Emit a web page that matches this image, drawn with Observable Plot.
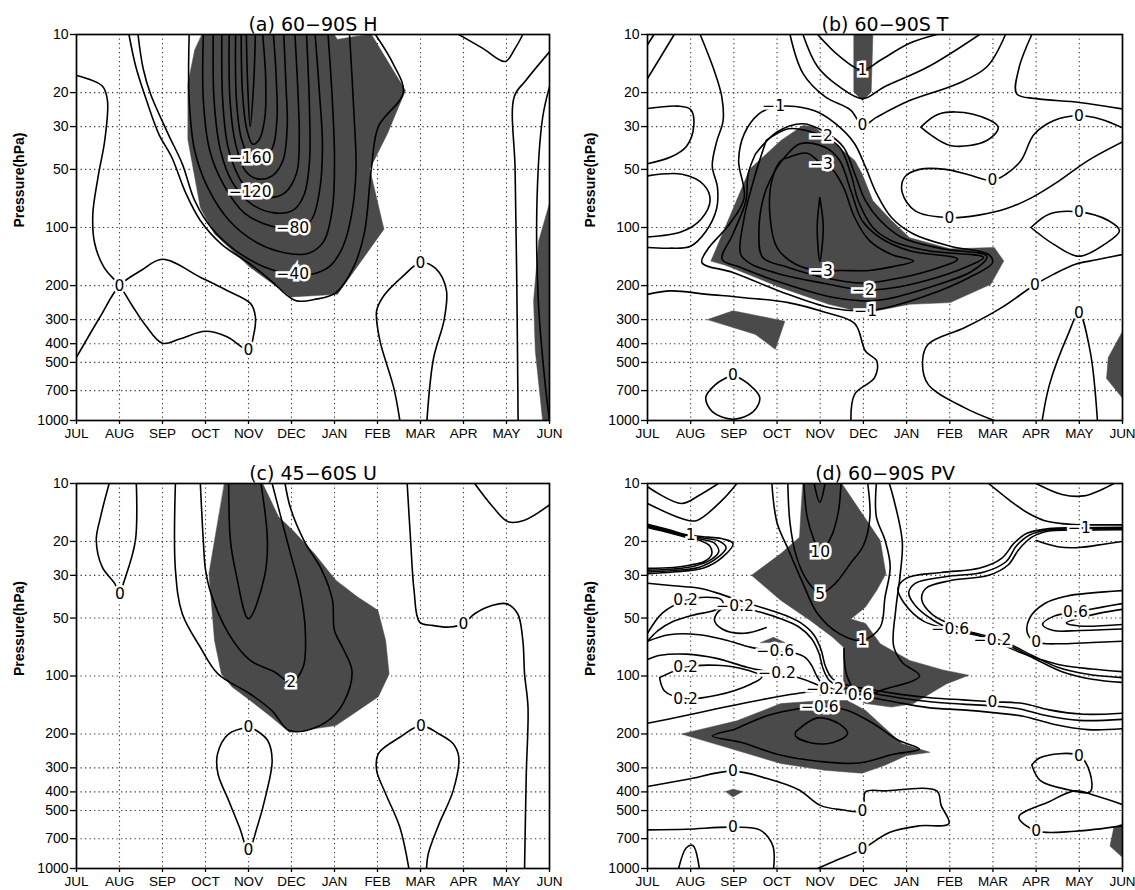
<!DOCTYPE html>
<html>
<head>
<meta charset="utf-8">
<script src="https://cdn.jsdelivr.net/npm/d3@7"></script>
<script src="https://cdn.jsdelivr.net/npm/@observablehq/plot@0.6"></script>
<style>
  html, body { margin: 0; padding: 0; background: #fff; }
  #fig { position: relative; width: 1135px; height: 890px; overflow: hidden; }
  #fig svg { position: absolute; overflow: visible; }
</style>
</head>
<body>
<div id="fig"></div>
<script>
// Month axis (JUL..JUN) and pressure axis ticks
const MONTHS = ["JUL","AUG","SEP","OCT","NOV","DEC","JAN","FEB","MAR","APR","MAY","JUN"];
const P_TICKS = [10, 20, 30, 50, 100, 200, 300, 400, 500, 700, 1000];

// Points are [month index (0 = JUL), pressure hPa]

// ---------- (a) 60-90S H ----------
const hShade = [
  [[2.92,10],[5.99,10],[6.07,10.6],[6.5,10.2],[6.86,10],[7.65,19.5],[7.23,32.7],[6.82,49.8],[7.15,102],[6.07,222],[4.99,229],[4.04,161],[3.21,108],[2.88,79],[2.59,35],[2.59,18],[2.75,12]],
  [[11,75],[10.75,117],[10.63,240],[10.67,437],[10.84,1000],[11,1000]]
];
const hLines = [
  {level: 0, pts: [[0,16.3],[0.6,18.5],[0.72,22],[0.66,35],[0.5,55],[0.38,85],[0.42,120],[0.64,161],[1.0,200],[1.3,255],[1.6,320],[2.0,398],[2.4,378],[3.0,345],[3.5,368],[4.0,430],[4.12,360],[4.16,290],[4.05,248],[3.5,212],[2.9,182],[2.0,146],[1.5,167],[1.0,200],[0.55,290],[0,470]]},
  {level: 0, pts: [[7.52,1000],[7.38,680],[7.05,380],[6.98,270],[7.15,225],[7.6,178],[8.0,152],[8.35,163],[8.6,210],[8.55,300],[8.3,480],[8.15,1000]]},
  {level: 0, pts: [[8.89,10],[9.45,11.8],[9.97,13.8],[10.2,11.8],[10.38,10]]},
  {level: 0, pts: [[11,12.3],[10.45,17.3],[10.18,21],[10.2,50],[10.24,200],[10.27,1000]]},
  {level: 20, pts: [[11,18.7],[10.84,27],[10.71,72],[10.74,240],[10.9,650],[11,1000]]},
  {level: -20, pts: [[1.22,10],[1.38,14.7],[1.63,22],[1.92,33],[2.21,43],[2.55,67],[2.88,92],[3.37,122],[4.04,155],[4.54,190],[4.87,222],[5.12,240],[5.53,236],[6.03,218],[6.44,161],[6.69,108],[6.86,49],[7.02,30],[7.6,20],[7.35,14],[6.95,10]]},
  {level: -40, pts: [[1.43,10],[1.55,15],[1.72,20.3],[2.13,32.7],[2.46,46.8],[2.75,72.6],[3.13,100],[3.71,132],[4.37,160],[5.03,175],[5.5,174],[5.9,158],[6.2,125],[6.4,85],[6.5,50],[6.45,25],[6.35,10]]},
  {level: -60, pts: [[2.62,10],[2.62,22],[2.75,40],[3.05,62],[3.55,92],[4.2,120],[4.9,136],[5.4,136],[5.75,118],[5.95,80],[6.0,45],[5.95,22],[5.85,10]]},
  {level: -80, pts: [[2.95,10],[2.95,22],[3.1,40],[3.42,60],[3.9,84],[4.5,98],[5.03,101],[5.45,92],[5.65,65],[5.72,38],[5.65,20],[5.55,10]]},
  {level: -100, pts: [[3.18,10],[3.2,22],[3.35,40],[3.62,58],[4.05,75],[4.6,84],[5.05,81],[5.3,67],[5.42,45],[5.42,25],[5.35,10]]},
  {level: -120, pts: [[3.38,10],[3.4,22],[3.52,38],[3.78,55],[4.04,65.8],[4.5,70],[4.85,66],[5.12,52],[5.18,35],[5.15,20],[5.08,10]]},
  {level: -140, pts: [[3.55,10],[3.57,22],[3.7,37],[3.93,51],[4.2,56],[4.55,54],[4.8,45],[4.9,30],[4.87,18],[4.82,10]]},
  {level: -160, pts: [[3.7,10],[3.72,22],[3.84,35],[4.04,43.5],[4.3,44],[4.55,39],[4.66,28],[4.64,16],[4.58,10]]},
  {level: -180, pts: [[3.83,10],[3.86,20],[3.96,31],[4.1,37],[4.25,35],[4.38,27],[4.4,17],[4.33,10]]},
  {level: -200, pts: [[3.95,10],[3.98,18],[4.04,30],[4.12,18],[4.16,10]]}
];
const hLabels = [[4.04,43.5,-160],[4.04,65.8,-120],[5.03,101,-80],[5.03,175,-40],[1.0,200,0],[4.0,430,0],[8.0,152,0]];

// ---------- (b) 60-90S T ----------
const tShade = [
  [[1.47,149],[2.37,49.8],[3.09,35.4],[3.6,29.6],[3.85,30],[4.28,36],[4.8,45],[4.97,52.8],[5.22,72.7],[5.65,92],[6.07,113],[7.01,129],[8.03,127],[8.25,149],[7.95,197],[7.01,245],[6.07,250],[5.05,277],[4.2,250],[3.09,205],[1.81,157]],
  [[4.78,10],[5.22,10],[5.18,19.9],[4.98,22],[4.78,19.9]],
  [[1.39,300],[1.98,270],[3.18,306],[2.96,428],[2.5,358]],
  [[11,345],[10.67,472],[10.63,605],[11,765]]
];
const tLines = [
  {level: -1, pts: [[2.92,23.6],[3.43,23.6],[3.94,25.2],[4.45,30.2],[4.8,36.9],[5.05,48.7],[5.31,67],[5.65,88.7],[6.16,108],[7.01,125],[7.9,138],[7.99,152],[7.44,182],[6.5,224],[5.48,262],[5.05,270],[4.28,262],[3.09,215],[1.98,171],[1.26,152],[1.39,130],[1.9,96],[2.24,70],[2.11,45],[2.24,32.7],[2.58,25.8],[2.92,23.6]]},
  {level: -1.5, pts: [[2.5,41.6],[3.0,32],[3.6,29],[4.11,32],[4.54,38.4],[4.8,52.8],[5.05,72.7],[5.39,92],[5.9,113],[6.84,129],[7.86,141],[7.52,168],[6.5,205],[5.48,236],[4.97,240],[4.28,230],[3.09,193],[2.16,161],[1.73,146],[1.98,108],[2.28,72.7],[2.33,52.8],[2.5,41.6]]},
  {level: -2, pts: [[2.75,35.4],[3.26,30.8],[3.7,31.5],[4.03,33.4],[4.45,38.4],[4.71,52.8],[4.88,72.7],[5.22,100],[5.65,117],[6.5,132],[7.78,143],[7.35,161],[6.5,187],[5.65,206],[5.0,211],[4.11,195],[3.09,175],[2.41,155],[2.16,138],[2.24,89],[2.5,52.8],[2.75,35.4]]},
  {level: -2.5, pts: [[3.0,48.8],[3.52,36.9],[4.11,38.4],[4.45,45],[4.71,64.5],[4.97,92],[5.39,113],[6.07,132],[7.18,146],[6.5,168],[5.65,186],[4.97,194],[4.11,182],[3.26,161],[2.67,143],[2.58,108],[2.71,67],[3.0,48.8]]},
  {level: -3, pts: [[3.26,43.4],[3.7,41.2],[4.03,46.8],[4.28,50],[4.54,62],[4.8,89],[5.14,117],[5.65,138],[6.16,149],[5.65,160],[5.14,167],[4.45,167],[4.03,168],[3.43,155],[3.0,127],[2.84,89],[2.88,57],[3.09,45],[3.26,43.4]]},
  {level: -3.5, pts: [[3.99,70],[4.07,100],[3.99,150],[3.93,100],[3.99,70]]},
  {level: 0, pts: [[0,11.3],[0.15,10]]},
  {level: 0, pts: [[0,16.9],[0.62,10]]},
  {level: 0, pts: [[0,24.2],[0.7,23.5],[1.0,24.5],[1.07,30],[0.9,38],[0.55,43],[0,46.7]]},
  {level: 0, pts: [[0,54],[0.8,53],[1.3,60],[1.45,72],[1.25,90],[0.8,105],[0,112]]},
  {level: -0.5, pts: [[1.22,10],[1.55,15.5],[1.72,21],[1.75,28],[1.6,36],[1.5,48],[1.62,62],[1.6,80],[1.35,105],[1.0,125],[0.5,128],[0,127]]},
  {level: 1, pts: [[3.94,10],[4.45,13],[4.98,15.3],[5.39,13.6],[6.07,11.1],[6.7,10]]},
  {level: 0.5, pts: [[3.6,10],[3.94,14.7],[4.45,18.7],[4.98,21.5],[5.48,18.7],[6.5,14.7],[7.69,10]]},
  {level: 0, pts: [[3.3,10],[3.6,15.9],[4.11,21],[4.71,24.7],[4.98,29.6],[5.31,26.8],[6.07,22],[7.18,18],[7.86,14.7],[8.29,10]]},
  {level: 0, pts: [[8.9,10],[8.6,15],[8.55,20.3],[9.0,21.5],[10,22.5],[11,24.3]]},
  {level: 0.5, pts: [[6.33,30.2],[6.75,25.8],[7.52,25.8],[8.12,30.2],[7.86,35.4],[7.01,37.6],[6.33,30.2]]},
  {level: 0, pts: [[11,30.5],[10.5,27.5],[9.99,26.3],[9.4,28],[8.95,33],[8.65,45],[8.3,53],[7.99,57],[7.4,53],[6.9,50],[6.3,50],[5.95,55],[5.9,66],[6.2,82],[6.99,89],[7.7,86],[8.3,80],[8.9,70],[9.5,58],[10.2,45],[11,36]]},
  {level: 0, pts: [[8.88,100],[9.31,85],[9.99,83],[10.67,92],[10.93,104],[10.59,122],[9.99,141],[9.4,122],[8.88,100]]},
  {level: 0, pts: [[11,138],[10.4,147],[9.91,155],[9.4,175],[8.97,198],[8.2,260],[7.35,330],[6.5,403],[6.37,490],[6.5,650],[7.35,860],[8.03,1000]]},
  {level: 0, pts: [[9.14,1000],[9.31,650],[9.74,358],[9.99,277],[10.25,437],[10.42,1000]]},
  {level: -0.5, pts: [[0,222],[0.54,213],[1.39,222],[2.24,231],[3.26,245],[4.11,275],[4.8,315],[5.05,438],[5.31,492],[5.26,600],[4.8,730],[4.71,1000]]},
  {level: 0, pts: [[1.98,578],[1.56,655],[1.35,760],[1.5,900],[1.98,985],[2.45,900],[2.6,760],[2.35,650],[1.98,578]]}
];
const tLabels = [[2.92,23.6,-1],[5.05,270,-1],[4.03,33.4,-2],[5.0,211,-2],[4.03,46.8,-3],[4.03,168,-3],[4.98,15.3,1],[4.98,29.6,0],[7.99,57,0],[6.99,89,0],[9.99,26.3,0],[9.99,83,0],[8.97,198,0],[9.99,277,0],[1.98,578,0]];

// ---------- (c) 45-60S U ----------
const uShade = [
  [[3.44,10],[4.33,10],[4.7,14.9],[5.03,17.5],[5.53,23.1],[6.03,31.8],[6.53,38.8],[7.01,45.6],[7.19,65.4],[7.27,97.5],[7.02,128],[6.44,157],[6.03,181],[4.95,196],[4.54,164],[4.04,134],[3.62,114],[3.37,97.5],[3.21,65.4],[3.08,29.4],[3.21,19.8]]
];
const uLines = [
  {level: 3, pts: [[3.54,10],[3.58,19.8],[3.71,29.4],[4.0,50.4],[4.37,30.6],[4.44,19.8],[4.29,10]]},
  {level: 2, pts: [[2.88,10],[2.95,20],[3.0,28],[3.13,37.4],[3.54,60.4],[4.04,83],[4.6,95],[4.99,108],[5.27,90],[5.32,58],[5.2,36],[4.95,22],[4.72,14],[4.55,10]]},
  {level: 1, pts: [[2.3,10],[2.3,28],[2.46,47.5],[2.88,70.9],[3.29,97.5],[4.04,124],[4.54,151],[4.95,192],[5.53,186],[6.03,157],[6.36,114],[6.4,92],[6.2,72],[6.0,58],[5.95,40],[5.7,28],[5.3,20],[4.98,13.5],[4.85,10]]},
  {level: 0, pts: [[0.76,10],[0.56,14.9],[0.46,19.7],[0.6,27.2],[0.89,33.1],[1.01,37.3],[1.09,33.1],[1.37,19.8],[1.39,10]]},
  {level: 0, pts: [[4.0,184],[3.54,200],[3.28,254],[3.29,322],[3.54,444],[3.79,611],[4.0,806],[4.2,611],[4.41,411],[4.55,275],[4.45,217],[4.2,193],[4.0,184]]},
  {level: 0, pts: [[7.73,1000],[7.52,611],[7.19,409],[6.98,309],[7.02,253],[7.52,208],[8.01,181],[8.43,200],[8.76,225],[8.89,264],[8.76,394],[8.43,588],[8.18,840],[8.14,1000]]},
  {level: 0, pts: [[7.69,10],[7.77,19.8],[7.85,35.9],[7.98,52.5],[8.27,54.6],[8.68,55.7],[9.0,53.4],[9.26,47.5],[9.68,42.9],[10.01,42.2],[10.26,47.5],[10.38,65.4],[10.42,97.5],[10.5,145],[10.46,322],[10.42,1000]]},
  {level: 0, pts: [[9.26,10],[9.68,13.2],[10.04,15.8],[10.42,15.5],[11,12.9]]}
];
const uLabels = [[1.01,37.3,0],[4.0,184,0],[4.0,806,0],[8.01,181,0],[9.0,53.4,0],[4.99,108,2]];

// ---------- (d) 60-90S PV ----------
const pvShade = [
  [[3.6,10],[4.5,10],[5.39,19.8],[5.52,29.4],[5.31,35.9],[5.05,43.8],[4.71,50.5],[5.05,53.4],[5.39,68],[6.07,83],[6.84,93],[7.44,99],[6.92,110],[6.16,139],[5.65,145],[5.05,139],[4.54,123],[4.54,70.8],[4.28,62.7],[3.77,51.5],[3.09,40.5],[2.41,30],[3.09,23.1],[3.52,19],[3.56,13.2]],
  [[0.79,200],[2.07,171],[3.09,139],[4.11,134],[4.63,134],[5.05,151],[5.48,185],[5.9,225],[6.54,249],[6.0,259],[5.48,292],[4.97,320],[4.11,309],[3.09,285],[1.81,234]],
  [[1.81,398],[1.98,387],[2.2,398],[1.98,425]],
  [[2.62,67],[2.92,63],[3.18,67]],
  [[11,585],[10.8,611],[10.71,765],[11,876]]
];
const pvLines = [
  {level: 10, pts: [[3.86,10],[3.99,12.5],[4.11,10]]},
  {level: 10, pts: [[3.62,10],[3.7,15],[3.85,19.5],[4.0,22.8],[4.25,19],[4.42,14],[4.48,10]]},
  {level: 5, pts: [[3.25,10],[3.3,16],[3.45,24],[3.7,32],[4.0,37.3],[4.35,33],[4.7,26],[5.0,21],[5.15,15],[5.1,10]]},
  {level: 1, pts: [[2.88,10],[3.0,16],[3.26,22],[3.6,33],[3.94,47.5],[4.45,60.4],[4.98,65.4],[5.39,55.7],[5.5,39],[5.62,27],[5.5,19.7],[5.3,14.9],[5.3,10]]},
  {level: 0.6, pts: [[4.55,72],[4.62,100],[4.92,126],[5.5,117],[6.3,100],[5.9,85],[5.7,70],[5.75,45],[5.85,30],[5.9,20],[5.7,12],[5.6,10]]},
  {level: 0.2, pts: [[0,10.4],[0.79,12.7],[1.2,11.5],[1.64,10]]},
  {level: 0.6, pts: [[0,12.7],[0.79,15.2],[1.13,15.6],[1.73,12.2],[2.07,10]]},
  // tightly packed band from JUL to AUG near 17 hPa
  {level: 1, pts: [[0,16.3],[0.5,17.4],[0.88,18.4],[1.4,19.0],[1.75,19.4],[1.98,20.5],[1.75,24],[1.3,27.5],[0.6,28.8],[0,29.4]]},
  {level: 0.6, pts: [[0,16.5],[0.5,17.6],[0.88,18.6],[1.35,19.3],[1.65,19.9],[1.82,21.5],[1.62,24.3],[1.2,27.2],[0.6,28.3],[0,28.8]]},
  {level: 0.2, pts: [[0,16.7],[0.5,17.8],[0.88,18.8],[1.3,19.6],[1.55,20.4],[1.65,22.6],[1.48,24.8],[1.1,26.8],[0.6,27.8],[0,28.2]]},
  {level: -0.2, pts: [[0,16.9],[0.5,18.0],[0.88,19.0],[1.25,19.9],[1.45,21.2],[1.48,23.5],[1.3,25.5],[1.0,26.5],[0.6,27.3],[0,27.6]]},
  {level: 0.2, pts: [[0,60],[0.35,47],[0.88,40.5],[1.35,39],[1.7,40],[1.75,43],[1.5,46],[1.1,48],[0.6,52],[0.25,58],[0,66]]},
  {level: 0, pts: [[0,33],[0.6,34],[1.2,35],[1.6,37],[2.2,41],[2.7,44.5],[3.15,48],[3.55,53],[3.85,61],[4.02,73],[4.12,89],[4.28,103],[4.6,111],[5.2,118],[5.9,125],[6.6,130],[7.3,133],[7.99,136],[8.7,139],[9.3,150],[10.1,158],[11,156]]},
  {level: -0.2, pts: [[2.75,56],[2.24,60],[1.73,57],[1.55,51],[1.7,45],[2.03,43.5],[2.6,46.5],[3.1,50.5],[3.5,55.5],[3.8,64],[3.97,76],[4.07,92],[4.22,106],[4.55,115],[5.15,122],[5.85,130],[6.55,136],[7.3,140],[7.99,143],[8.6,148],[9.2,160],[10,170],[11,168]]},
  {level: -0.6, pts: [[0,66],[0.5,61],[1.2,61],[1.8,65],[2.4,71],[2.96,74.5],[3.4,76],[3.65,80],[3.8,88],[3.92,100],[4.05,110],[4.4,119],[5.0,127],[5.7,136],[6.5,146],[7.3,150],[8.0,155],[8.7,162],[9.4,178],[10.2,190],[11,188]]},
  {level: -0.2, pts: [[0,82],[0.3,78],[0.9,77],[1.6,81],[2.3,90],[3.0,97],[3.5,102],[3.85,109],[4.11,117],[3.7,121],[3.2,126],[2.4,136],[1.6,148],[0.8,162],[0,176]]},
  {level: 0.2, pts: [[0.28,102],[0.88,90],[1.6,88],[2.3,93],[2.65,101],[2.4,110],[1.6,126],[0.88,131],[0.4,120],[0.28,102]]},
  {level: -0.6, pts: [[2.0,190],[2.8,160],[3.5,148],[3.99,145],[4.6,150],[5.2,175],[5.8,215],[6.3,240],[5.7,255],[4.9,283],[4.0,278],[3.0,255],[2.2,222],[1.5,205],[2.0,190]]},
  {level: -1, pts: [[3.43,195],[3.94,165],[4.45,178],[4.63,200],[4.28,222],[3.77,222],[3.43,205],[3.43,195]]},
  {level: 0, pts: [[0,375],[0.9,345],[1.98,312],[2.75,340],[3.5,390],[4.0,470],[4.5,495],[4.98,500],[5.05,400],[5.5,395],[6.7,395],[6.8,470],[6.98,585],[6.3,600],[5.6,650],[4.98,793],[4.4,900],[3.94,1000]]},
  {level: 0, pts: [[0,630],[0.9,625],[1.98,610],[2.6,630],[2.9,760],[2.92,1000]]},
  {level: 0, pts: [[0.72,1000],[0.9,780],[1.05,760],[1.2,1000]]},
  {level: 0, pts: [[8.9,290],[9.1,265],[9.99,259],[10.25,320],[10.25,400],[9.75,390],[9.1,350],[8.9,290]]},
  {level: 0, pts: [[11,465],[10.4,420],[9.9,395],[9.3,450],[8.6,540],[9.0,637],[9.9,640],[11,600]]},
  // nested contours opening to JUN, packed into a band near 17 hPa
  {level: -1, pts: [[11,16.9],[10,17.0],[9.3,17.15],[8.8,18.1],[8.5,20.3],[8.2,24.5],[7.7,27.5],[6.8,29],[6.0,31],[5.8,35],[5.95,42],[6.4,52],[7.0,57],[7.7,62],[8.4,70],[9.0,82],[9.6,95],[10.3,104],[11,108]]},
  {level: -0.6, pts: [[11,17.15],[10,17.25],[9.3,17.4],[8.85,18.5],[8.55,21.0],[8.3,25.5],[7.8,28.8],[6.9,30.5],[6.2,33],[6.05,37],[6.2,43],[6.6,51],[7.01,56.8],[7.6,60],[8.3,67],[8.9,78],[9.5,90],[10.2,98],[11,102]]},
  {level: -0.2, pts: [[11,17.4],[10,17.5],[9.3,17.65],[8.9,19.0],[8.6,22.0],[8.35,26.5],[7.9,30],[7.0,32],[6.45,35],[6.35,40],[6.6,48],[7.2,56],[7.99,65.4],[8.6,75],[9.1,82],[9.6,88],[10.3,92],[11,95]]},
  {level: 0, pts: [[11,36],[10.3,37],[9.7,38.5],[9.2,42],[8.85,50],[8.8,60],[9.0,66.6],[9.6,68],[10.3,67],[11,66]]},
  {level: 0.6, pts: [[11,42],[10.5,44],[9.91,46.5],[9.4,49],[9.15,54],[9.4,58],[10.0,58],[11,57]]},
  {level: 1, pts: [[11,45],[10.5,47],[10.0,50],[9.7,53],[10.0,55],[11,54]]},
  {level: 0, pts: [[7.9,10],[8.4,12.3],[8.8,14.2],[9.2,15.6],[9.8,16.3],[10.5,16.4],[11,16.4]]},
  {level: 0.2, pts: [[9.0,10],[9.6,11.4],[10.1,11.6],[10.5,10.8],[10.8,10]]},
  {level: -0.6, pts: [[9.0,19.8],[9.5,21.3],[10.0,21.5],[10.6,20.6],[11,20]]}
];
const pvLabels = [[4.0,22.8,10],[4.0,37.3,5],[4.98,65.4,1],[4.92,126,0.6],[1.0,18.5,1],[0.88,40.5,0.2],[2.03,43.5,-0.2],[2.96,74.5,-0.6],[3.0,97,-0.2],[0.88,90,0.2],[0.88,131,0.2],[4.11,117,-0.2],[3.99,145,-0.6],[7.01,56.8,-0.6],[7.99,65.4,-0.2],[9.0,66.6,0],[9.91,46.5,0.6],[10.0,17.1,-1],[7.99,136,0],[9.99,259,0],[1.98,312,0],[4.98,500,0],[1.98,610,0],[9.0,637,0],[4.98,793,0]];

// ---------- drawing ----------
const SHADE = "#4a4a4a";
const SANS = "'Liberation Sans', Arial, sans-serif";
const GRADS = "'DejaVu Sans', sans-serif";
const fmtLevel = v => (v < 0 ? "\u2212" + Math.abs(v) : String(v));

function panel({title, shade, lines, labels, left, top, width, height, ml, mr, mt, mb}) {
  const lineRows = lines.flatMap((c, i) => c.pts.map(([m, p]) => ({id: i, m, p})));
  const shadeRows = shade.flatMap((poly, i) => poly.map(([m, p]) => ({id: i, m, p})));
  const labelRows = labels.map(([m, p, level]) => ({m, p, text: fmtLevel(level)}));
  const monthIdx = d3.range(MONTHS.length);
  const svg = Plot.plot({
    width, height,
    marginLeft: ml, marginRight: mr, marginTop: mt, marginBottom: mb,
    style: {fontFamily: SANS, fontSize: "14px", background: "transparent", overflow: "visible"},
    x: {domain: [0, 11], axis: null},
    y: {type: "log", domain: [10, 1000], reverse: true, axis: null},
    marks: [
      Plot.gridX(d3.range(1, 11), {stroke: "#222", strokeOpacity: 0.9, strokeDasharray: "1.3,3.2", strokeWidth: 1.1}),
      Plot.gridY(P_TICKS.slice(1, -1), {stroke: "#222", strokeOpacity: 0.9, strokeDasharray: "1.3,3.2", strokeWidth: 1.1}),
      Plot.line(shadeRows, {x: "m", y: "p", z: "id", fill: SHADE, stroke: SHADE, strokeWidth: 0.5, curve: "linear-closed", clip: true}),
      Plot.line(lineRows, {x: "m", y: "p", z: "id", stroke: "#000", strokeWidth: 1.6, curve: "catmull-rom", clip: true}),
      Plot.text(labelRows, {x: "m", y: "p", text: "text", fontSize: 15.5, fontFamily: GRADS,
        fill: "#000", stroke: "#fff", strokeWidth: 5, strokeLinejoin: "miter", paintOrder: "stroke"}),
      Plot.frame({stroke: "#000", strokeWidth: 1.7}),
      // tick marks
      Plot.axisX(monthIdx, {tickSize: 4, tickFormat: () => "", label: null, strokeWidth: 1.3}),
      Plot.axisY(P_TICKS, {tickSize: 6, tickFormat: () => "", label: null, strokeWidth: 1.3}),
      // tick labels
      Plot.text(monthIdx, {x: d => d, frameAnchor: "bottom", dy: 13, lineAnchor: "middle",
        text: i => MONTHS[i], fontSize: 13.5, fontFamily: SANS, fill: "#000"}),
      Plot.text(P_TICKS, {y: d => d, frameAnchor: "left", dx: -8, textAnchor: "end",
        text: d => String(d), fontSize: 14, fontFamily: SANS, fill: "#000"}),
      // panel title and y-axis title
      Plot.text([title], {frameAnchor: "top", dy: -17, fontSize: 19, fontFamily: GRADS, fill: "#000"}),
      Plot.text(["Pressure(hPa)"], {frameAnchor: "left", dx: -57, rotate: -90, fontSize: 14, fontWeight: "bold", fontFamily: SANS, fill: "#000"})
    ]
  });
  svg.style.left = left + "px";
  svg.style.top = top + "px";
  document.getElementById("fig").appendChild(svg);
}

panel({title: "(a) 60\u221290S H", shade: hShade, lines: hLines, labels: hLabels,
  left: 0, top: 0, width: 560, height: 445, ml: 76, mr: 11, mt: 34, mb: 25});
panel({title: "(b) 60\u221290S T", shade: tShade, lines: tLines, labels: tLabels,
  left: 570, top: 0, width: 565, height: 445, ml: 77, mr: 13, mt: 34, mb: 25});
panel({title: "(c) 45\u221260S U", shade: uShade, lines: uLines, labels: uLabels,
  left: 0, top: 449, width: 560, height: 441, ml: 76, mr: 11, mt: 34, mb: 22});
panel({title: "(d) 60\u221290S PV", shade: pvShade, lines: pvLines, labels: pvLabels,
  left: 570, top: 449, width: 565, height: 441, ml: 77, mr: 13, mt: 34, mb: 22});
</script>
</body>
</html>
